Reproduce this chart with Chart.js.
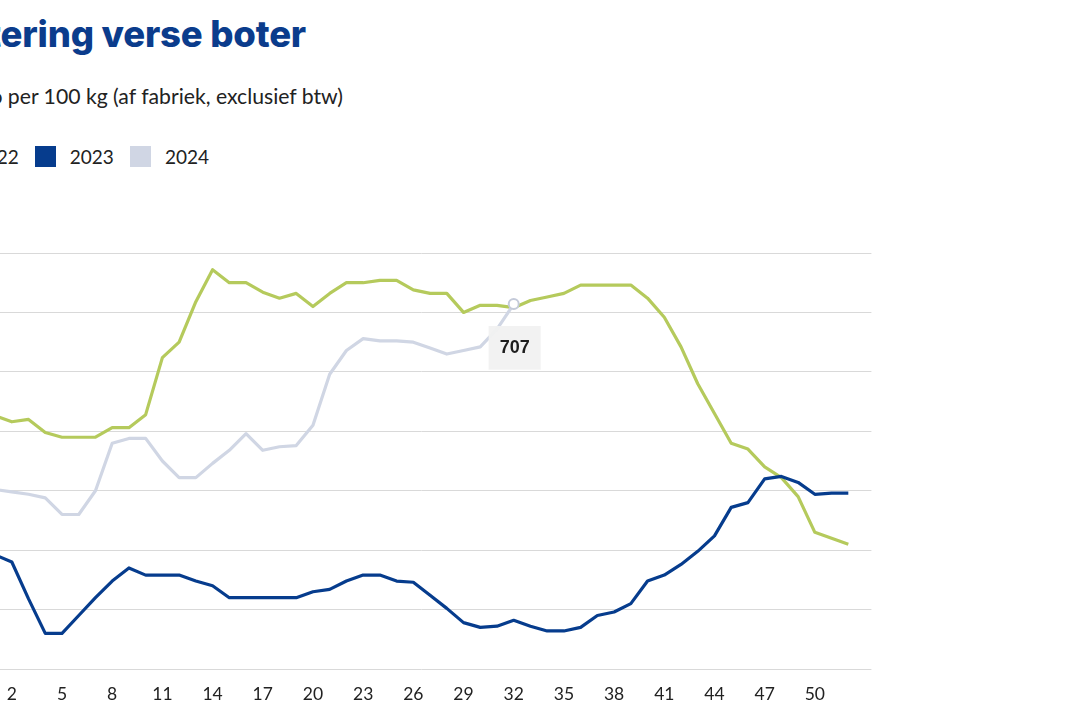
<!DOCTYPE html>
<html>
<head>
<meta charset="utf-8">
<script src="https://cdn.jsdelivr.net/npm/chart.js@4.4.1/dist/chart.umd.min.js"></script>
<style>
  html, body { margin:0; padding:0; background:#fff; }
  body { width:1070px; height:713px; overflow:hidden; position:relative; font-family:"Lato","Noto Sans",sans-serif; }
  .ra { position:absolute; white-space:nowrap; text-align:right; }
  #title { top:11px; right:764px; font-family:"Inter","Open Sans",sans-serif; font-weight:800; font-size:36.5px; line-height:46px; color:#0b3c8c; letter-spacing:-0.2px; }
  #subtitle { top:83px; right:727px; font-size:21.2px; line-height:27px; color:#222; }
  #legend { top:146px; right:861px; display:flex; align-items:center; font-size:19px; line-height:21px; color:#222; }
  #legend .item { display:flex; align-items:center; margin-left:16px; }
  #legend .sw { width:21px; height:21px; margin-right:14px; }
  #wrap { position:absolute; left:-78px; top:233px; width:951px; height:480px; }
</style>
</head>
<body>
<div id="title" class="ra">Notering verse boter</div>
<div id="subtitle" class="ra">Euro per 100 kg (af fabriek, exclusief btw)</div>
<div id="legend" class="ra"></div>
<div id="wrap"><canvas id="c"></canvas></div>
<script>
const weeks = [1,2,3,4,5,6,7,8,9,10,11,12,13,14,15,16,17,18,19,20,21,22,23,24,25,26,27,28,29,30,31,32,33,34,35,36,37,38,39,40,41,42,43,44,45,46,47,48,49,50,51,52];
const xTicks = [2,5,8,11,14,17,20,23,26,29,32,35,38,41,44,47,50];
const yTicks = [400,450,500,550,600,650,700,750];
const seriesNames = ["2022","2023","2024"];
const seriesColors = ["#b5ca5c","#063c8d","#d0d6e4"];
const values2022 = [613,608,610,599,595,595,595,603,603,614,662,675,709,736,725,725,717,712,716,705,716,725,725,727,727,719,716,716,700,706,706,704,710,713,716,723,723,723,723,712,696,671,640,615,590,585,570,561,545,515,510,505];
const values2023 = [496,490,459,430,430,445,460,474,485,479,479,479,474,470,460,460,460,460,460,465,467,474,479,479,474,473,462,451,439,435,436,441,436,432,432,435,445,448,455,474,479,488,499,512,536,540,560,562,557,547,548,548];
const values2024 = [551,549,547,544,530,530,550,590,594,594,575,561,561,573,584,598,584,587,588,605,648,668,678,676,676,675,670,665,668,671,686,707,null,null,null,null,null,null,null,null,null,null,null,null,null,null,null,null,null,null,null,null];
const highlightWeek = 32;

const allValues = [values2022, values2023, values2024];

// legend
const leg = document.getElementById('legend');
seriesNames.forEach((n, i) => {
  const it = document.createElement('div'); it.className = 'item';
  const sw = document.createElement('div'); sw.className = 'sw'; sw.style.background = seriesColors[i];
  const tx = document.createElement('span'); tx.textContent = n;
  it.appendChild(sw); it.appendChild(tx); leg.appendChild(it);
});

const toPts = vals => weeks.map((w, i) => ({ x: w, y: vals[i] }));
const drawOrder = [3, 2, 1];

Chart.Tooltip.positioners.below = function (items) {
  if (!items.length) return false;
  const el = items[0].element;
  return { x: el.x, y: el.y + 22, xAlign: 'center', yAlign: 'top' };
};

const datasets = seriesNames.map((n, i) => ({
  label: n,
  data: toPts(allValues[i]),
  borderColor: seriesColors[i],
  backgroundColor: seriesColors[i],
  borderWidth: 3.2,
  tension: 0,
  pointRadius: 0,
  pointHoverRadius: 5,
  pointHoverBorderWidth: 2,
  pointHoverBackgroundColor: '#ffffff',
  pointHoverBorderColor: '#c4cad9',
  borderJoinStyle: 'round',
  order: drawOrder[i],
  spanGaps: false
}));

const chart = new Chart(document.getElementById('c'), {
  type: 'line',
  data: { datasets },
  options: {
    responsive: true,
    maintainAspectRatio: false,
    animation: false,
    events: [],
    layout: { padding: { top: 20, left: 0, right: 0, bottom: 0 } },
    plugins: {
      legend: { display: false },
      title: { display: false },
      tooltip: {
        enabled: true,
        position: 'below',
        backgroundColor: 'rgba(241,241,241,0.96)',
        bodyColor: '#1e1e1e',
        bodyFont: { family: '"Liberation Sans", Arial, sans-serif', weight: 'bold', size: 18 },
        padding: { left: 11, right: 11, top: 11, bottom: 11 },
        caretSize: 0,
        caretPadding: 0,
        cornerRadius: 0,
        displayColors: false,
        callbacks: {
          title: () => '',
          label: ctx => String(ctx.parsed.y)
        }
      }
    },
    scales: {
      x: {
        type: 'linear',
        min: -0.38,
        max: 53.38,
        grid: { display: false, drawTicks: false },
        border: { display: false },
        afterBuildTicks: s => { s.ticks = xTicks.map(v => ({ value: v })); },
        afterFit: s => { s.height = 44; },
        ticks: {
          autoSkip: false,
          maxRotation: 0,
          padding: 15,
          color: '#222',
          font: { family: '"Lato","Noto Sans",sans-serif', size: 17.5 },
          callback: v => String(v)
        }
      },
      y: {
        min: 400,
        max: 750,
        grid: { color: '#d9d9d9', lineWidth: 1, drawTicks: false },
        border: { display: false },
        afterBuildTicks: s => { s.ticks = yTicks.map(v => ({ value: v })); },
        afterFit: s => { s.width = 50; },
        ticks: { color: '#222', padding: 8, font: { family: '"Lato","Noto Sans",sans-serif', size: 17 } }
      }
    }
  }
});

const hi = weeks.indexOf(highlightWeek);
const act = [{ datasetIndex: 2, index: hi }];
chart.setActiveElements(act);
chart.tooltip.setActiveElements(act, { x: 0, y: 0 });
chart.update();
</script>
</body>
</html>
